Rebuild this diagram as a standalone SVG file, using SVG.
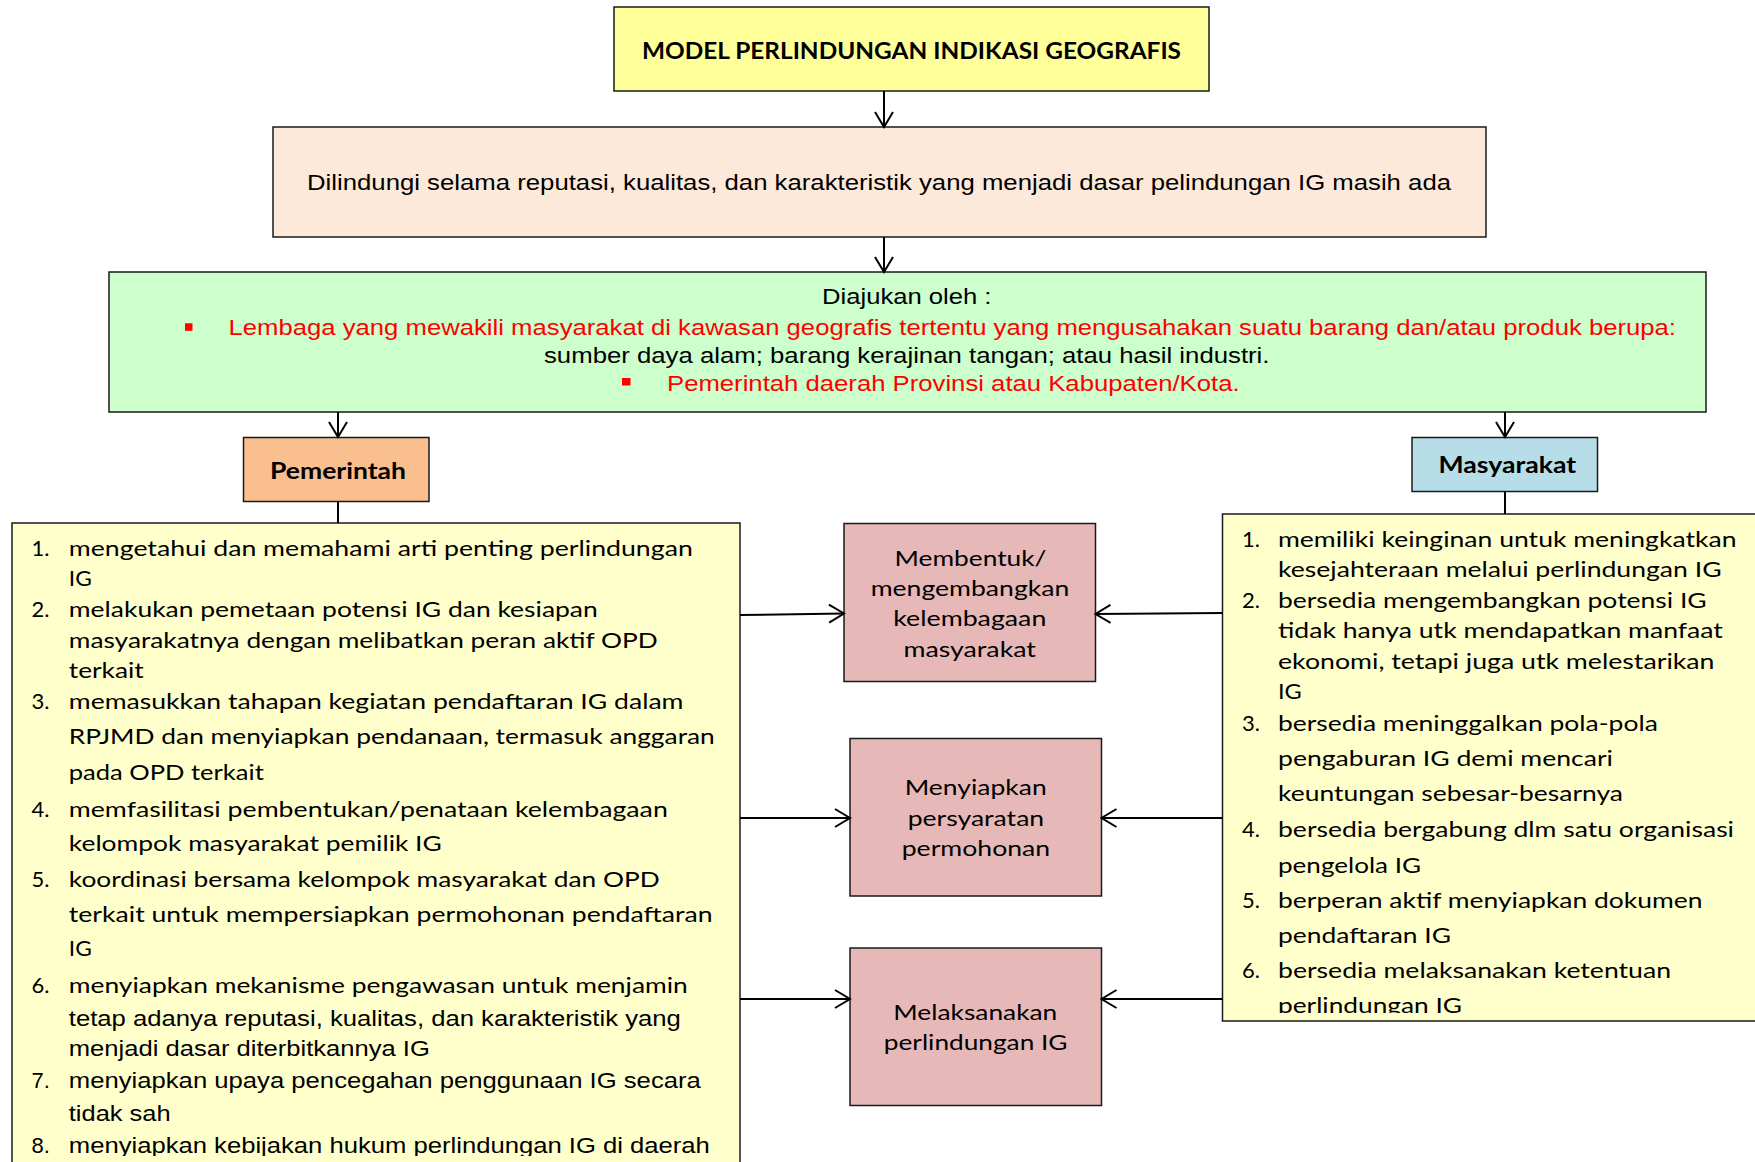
<svg xmlns="http://www.w3.org/2000/svg" width="1755" height="1162" viewBox="0 0 1755 1162">
<defs>
<marker id="arr" markerUnits="userSpaceOnUse" markerWidth="18" markerHeight="22" viewBox="0 0 18 22" refX="16" refY="11" orient="auto">
<path d="M1,2 L16,11 L1,20" fill="none" stroke="#000" stroke-width="2"/>
</marker>
<clipPath id="clipL"><rect x="12" y="523" width="728" height="633"/></clipPath>
<clipPath id="clipR"><rect x="1222" y="514" width="540" height="499"/></clipPath>
</defs>
<style>
.box{stroke:#1a1a1a;stroke-width:1.5}
.c{font-family:Lato,"Open Sans","Noto Sans",sans-serif;font-size:22px;fill:#000}
.b{font-weight:bold}
.a{font-family:"Liberation Sans",Arial,sans-serif;font-size:22px;fill:#000}
.red{fill:#ff0000}
.ln{stroke:#000;stroke-width:2;fill:none}
</style>
<rect width="1755" height="1162" fill="#fff"/>

<g id="title">
<rect class="box" x="614" y="7" width="595" height="84" fill="#ffff99"/>
<text class="c b" x="642" y="58.5" textLength="539" lengthAdjust="spacingAndGlyphs">MODEL PERLINDUNGAN INDIKASI GEOGRAFIS</text>
</g>

<g id="dilindungi">
<rect class="box" x="273" y="127" width="1213" height="110" fill="#fde9d9"/>
<text class="a" x="307" y="190" textLength="1144" lengthAdjust="spacingAndGlyphs">Dilindungi selama reputasi, kualitas, dan karakteristik yang menjadi dasar pelindungan IG masih ada</text>
</g>

<g id="diajukan">
<rect class="box" x="109" y="272" width="1597" height="140" fill="#ccffcc"/>
<text class="a" x="822" y="303.5" textLength="169.5" lengthAdjust="spacingAndGlyphs">Diajukan oleh :</text>
<rect x="185" y="323.3" width="7.5" height="7.5" fill="#ff0000"/>
<text class="a red" x="228.5" y="334.5" textLength="1447.5" lengthAdjust="spacingAndGlyphs">Lembaga yang mewakili masyarakat di kawasan geografis tertentu yang mengusahakan suatu barang dan/atau produk berupa:</text>
<text class="a" x="544" y="362.5" textLength="725.5" lengthAdjust="spacingAndGlyphs">sumber daya alam; barang kerajinan tangan; atau hasil industri.</text>
<rect x="622" y="378" width="8.5" height="7.5" fill="#ff0000"/>
<text class="a red" x="667" y="391" textLength="572.6" lengthAdjust="spacingAndGlyphs">Pemerintah daerah Provinsi atau Kabupaten/Kota.</text>
</g>

<g id="pemerintah">
<rect class="box" x="243.5" y="437.5" width="185.5" height="64" fill="#fabf8f"/>
<text class="c b" x="270" y="478.5" textLength="136" lengthAdjust="spacingAndGlyphs">Pemerintah</text>
</g>

<g id="masyarakat">
<rect class="box" x="1412" y="437.5" width="185.5" height="54" fill="#b7dee8"/>
<text class="c b" x="1438.5" y="473" textLength="137.7" lengthAdjust="spacingAndGlyphs">Masyarakat</text>
</g>

<g id="list-pemerintah">
<rect class="box" x="12" y="523" width="728" height="660" fill="#ffffcc"/>
<g clip-path="url(#clipL)">
<text class="c" x="31.5" y="556">1.</text>
<text class="c" x="68.8" y="556" textLength="624" lengthAdjust="spacingAndGlyphs">mengetahui dan memahami arti penting perlindungan</text>
<text class="c" x="68.8" y="586" textLength="23" lengthAdjust="spacingAndGlyphs">IG</text>
<text class="c" x="31.5" y="617">2.</text>
<text class="c" x="68.8" y="617" textLength="529" lengthAdjust="spacingAndGlyphs">melakukan pemetaan potensi IG dan kesiapan</text>
<text class="c" x="68.8" y="647.5" textLength="589" lengthAdjust="spacingAndGlyphs">masyarakatnya dengan melibatkan peran aktif OPD</text>
<text class="c" x="68.8" y="678" textLength="75" lengthAdjust="spacingAndGlyphs">terkait</text>
<text class="c" x="31.5" y="709">3.</text>
<text class="c" x="68.8" y="709" textLength="614.7" lengthAdjust="spacingAndGlyphs">memasukkan tahapan kegiatan pendaftaran IG dalam</text>
<text class="c" x="68.8" y="743.5" textLength="646" lengthAdjust="spacingAndGlyphs">RPJMD dan menyiapkan pendanaan, termasuk anggaran</text>
<text class="c" x="68.8" y="780" textLength="195" lengthAdjust="spacingAndGlyphs">pada OPD terkait</text>
<text class="c" x="31.5" y="816.5">4.</text>
<text class="c" x="68.8" y="816.5" textLength="599" lengthAdjust="spacingAndGlyphs">memfasilitasi pembentukan/penataan kelembagaan</text>
<text class="c" x="68.8" y="851" textLength="373" lengthAdjust="spacingAndGlyphs">kelompok masyarakat pemilik IG</text>
<text class="c" x="31.5" y="887">5.</text>
<text class="c" x="68.8" y="887" textLength="591" lengthAdjust="spacingAndGlyphs">koordinasi bersama kelompok masyarakat dan OPD</text>
<text class="c" x="68.8" y="922" textLength="643.7" lengthAdjust="spacingAndGlyphs">terkait untuk mempersiapkan permohonan pendaftaran</text>
<text class="c" x="68.8" y="956" textLength="23" lengthAdjust="spacingAndGlyphs">IG</text>
<text class="c" x="31.5" y="993">6.</text>
<text class="c" x="68.8" y="993" textLength="619" lengthAdjust="spacingAndGlyphs">menyiapkan mekanisme pengawasan untuk menjamin</text>
<text class="a" x="68.8" y="1026" textLength="612" lengthAdjust="spacingAndGlyphs">tetap adanya reputasi, kualitas, dan karakteristik yang</text>
<text class="a" x="68.8" y="1055.5" textLength="361" lengthAdjust="spacingAndGlyphs">menjadi dasar diterbitkannya IG</text>
<text class="a" x="31.5" y="1088">7.</text>
<text class="a" x="68.8" y="1088" textLength="632" lengthAdjust="spacingAndGlyphs">menyiapkan upaya pencegahan penggunaan IG secara</text>
<text class="a" x="68.8" y="1121" textLength="101.8" lengthAdjust="spacingAndGlyphs">tidak sah</text>
<text class="a" x="31.5" y="1153">8.</text>
<text class="a" x="68.8" y="1153" textLength="641" lengthAdjust="spacingAndGlyphs">menyiapkan kebijakan hukum perlindungan IG di daerah</text>
</g>
</g>

<g id="list-masyarakat">
<rect class="box" x="1222.5" y="514" width="545" height="507" fill="#ffffcc"/>
<g clip-path="url(#clipR)">
<text class="c" x="1242" y="546.5">1.</text>
<text class="c" x="1278" y="546.5" textLength="458.5" lengthAdjust="spacingAndGlyphs">memiliki keinginan untuk meningkatkan</text>
<text class="c" x="1278" y="576.5" textLength="443.6" lengthAdjust="spacingAndGlyphs">kesejahteraan melalui perlindungan IG</text>
<text class="c" x="1242" y="607.5">2.</text>
<text class="c" x="1278" y="607.5" textLength="428.7" lengthAdjust="spacingAndGlyphs">bersedia mengembangkan potensi IG</text>
<text class="c" x="1278" y="638" textLength="444.8" lengthAdjust="spacingAndGlyphs">tidak hanya utk mendapatkan manfaat</text>
<text class="c" x="1278" y="669" textLength="436.5" lengthAdjust="spacingAndGlyphs">ekonomi, tetapi juga utk melestarikan</text>
<text class="c" x="1278" y="699" textLength="23.8" lengthAdjust="spacingAndGlyphs">IG</text>
<text class="c" x="1242" y="731">3.</text>
<text class="c" x="1278" y="731" textLength="379.8" lengthAdjust="spacingAndGlyphs">bersedia meninggalkan pola-pola</text>
<text class="c" x="1278" y="765.5" textLength="335" lengthAdjust="spacingAndGlyphs">pengaburan IG demi mencari</text>
<text class="c" x="1278" y="801" textLength="345" lengthAdjust="spacingAndGlyphs">keuntungan sebesar-besarnya</text>
<text class="c" x="1242" y="836.5">4.</text>
<text class="c" x="1278" y="836.5" textLength="456" lengthAdjust="spacingAndGlyphs">bersedia bergabung dlm satu organisasi</text>
<text class="c" x="1278" y="872.5" textLength="143" lengthAdjust="spacingAndGlyphs">pengelola IG</text>
<text class="c" x="1242" y="908">5.</text>
<text class="c" x="1278" y="908" textLength="424.5" lengthAdjust="spacingAndGlyphs">berperan aktif menyiapkan dokumen</text>
<text class="c" x="1278" y="942.5" textLength="173" lengthAdjust="spacingAndGlyphs">pendaftaran IG</text>
<text class="c" x="1242" y="978">6.</text>
<text class="c" x="1278" y="978" textLength="393" lengthAdjust="spacingAndGlyphs">bersedia melaksanakan ketentuan</text>
<text class="c" x="1278" y="1012.5" textLength="184" lengthAdjust="spacingAndGlyphs">perlindungan IG</text>
</g>
</g>

<g id="membentuk">
<rect class="box" x="844" y="523.5" width="251.5" height="158" fill="#e6b9b8"/>
<text class="c" x="894.5" y="565.5" textLength="152" lengthAdjust="spacingAndGlyphs">Membentuk/</text>
<text class="c" x="870.7" y="596" textLength="198.6" lengthAdjust="spacingAndGlyphs">mengembangkan</text>
<text class="c" x="893.3" y="626" textLength="153" lengthAdjust="spacingAndGlyphs">kelembagaan</text>
<text class="c" x="903.5" y="657" textLength="132.4" lengthAdjust="spacingAndGlyphs">masyarakat</text>
</g>

<g id="menyiapkan">
<rect class="box" x="850" y="738.5" width="251.5" height="157.5" fill="#e6b9b8"/>
<text class="c" x="904.7" y="795" textLength="142" lengthAdjust="spacingAndGlyphs">Menyiapkan</text>
<text class="c" x="907.7" y="826" textLength="136.5" lengthAdjust="spacingAndGlyphs">persyaratan</text>
<text class="c" x="901.7" y="856" textLength="148.5" lengthAdjust="spacingAndGlyphs">permohonan</text>
</g>

<g id="melaksanakan">
<rect class="box" x="850" y="948" width="251.5" height="157.5" fill="#e6b9b8"/>
<text class="c" x="893.3" y="1020" textLength="164" lengthAdjust="spacingAndGlyphs">Melaksanakan</text>
<text class="c" x="883.8" y="1050" textLength="183.7" lengthAdjust="spacingAndGlyphs">perlindungan IG</text>
</g>

<g id="connectors">
<line class="ln" x1="884" y1="91" x2="884" y2="127" marker-end="url(#arr)"/>
<line class="ln" x1="884" y1="237" x2="884" y2="272" marker-end="url(#arr)"/>
<line class="ln" x1="338" y1="412" x2="338" y2="437" marker-end="url(#arr)"/>
<line class="ln" x1="338" y1="501.5" x2="338" y2="523"/>
<line class="ln" x1="1505" y1="412" x2="1505" y2="437" marker-end="url(#arr)"/>
<line class="ln" x1="1505" y1="491.5" x2="1505" y2="514"/>
<line class="ln" x1="740" y1="615" x2="844" y2="613.5" marker-end="url(#arr)"/>
<line class="ln" x1="1222.5" y1="613" x2="1095.5" y2="614" marker-end="url(#arr)"/>
<line class="ln" x1="740" y1="818" x2="850" y2="818" marker-end="url(#arr)"/>
<line class="ln" x1="1222.5" y1="818" x2="1101.5" y2="818" marker-end="url(#arr)"/>
<line class="ln" x1="740" y1="999" x2="850" y2="999" marker-end="url(#arr)"/>
<line class="ln" x1="1222.5" y1="999" x2="1101.5" y2="999" marker-end="url(#arr)"/>
</g>
</svg>
